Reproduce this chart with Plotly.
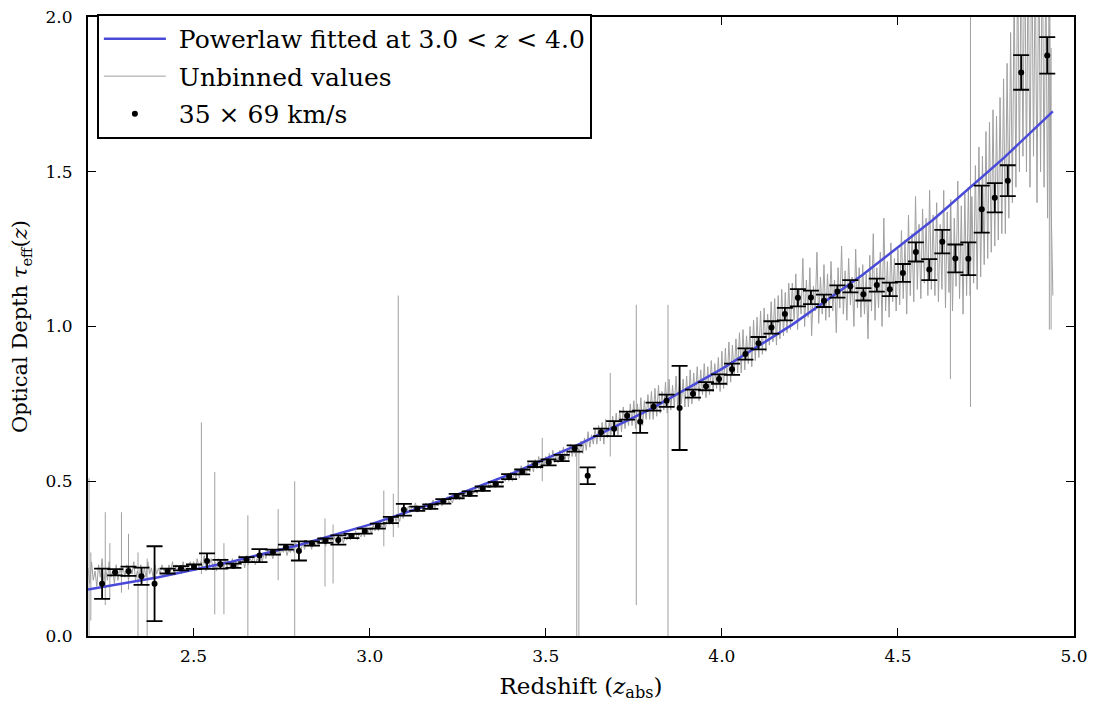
import numpy as np
import plotly.graph_objects as go

# %%
# Binned optical depth (35 x 69 km/s bins)
z_bin = [2.240, 2.277, 2.315, 2.352, 2.389, 2.426, 2.464, 2.501, 2.538, 2.576,
         2.613, 2.650, 2.687, 2.725, 2.762, 2.799, 2.836, 2.874, 2.911, 2.948,
         2.986, 3.023, 3.060, 3.097, 3.135, 3.172, 3.209, 3.247, 3.284, 3.321,
         3.358, 3.396, 3.433, 3.470, 3.508, 3.545, 3.582, 3.619, 3.657, 3.694,
         3.731, 3.768, 3.806, 3.843, 3.880, 3.918, 3.955, 3.992, 4.029, 4.067,
         4.104, 4.141, 4.179, 4.216, 4.253, 4.290, 4.328, 4.365, 4.402, 4.440,
         4.477, 4.514, 4.551, 4.589, 4.626, 4.663, 4.700, 4.738, 4.775, 4.812,
         4.850, 4.924]
tau_bin = [0.169, 0.206, 0.209, 0.193, 0.169, 0.210, 0.219, 0.224, 0.242, 0.232,
           0.227, 0.247, 0.260, 0.271, 0.287, 0.275, 0.299, 0.308, 0.310, 0.323,
           0.339, 0.355, 0.375, 0.408, 0.411, 0.418, 0.435, 0.452, 0.460, 0.476,
           0.490, 0.515, 0.530, 0.555, 0.561, 0.575, 0.606, 0.518, 0.658, 0.670,
           0.712, 0.692, 0.741, 0.760, 0.737, 0.783, 0.807, 0.830, 0.862, 0.911,
           0.946, 0.997, 1.040, 1.093, 1.094, 1.083, 1.113, 1.130, 1.104, 1.134,
           1.120, 1.173, 1.241, 1.184, 1.274, 1.220, 1.219, 1.379, 1.416, 1.471,
           1.821, 1.876]
tau_err = [0.049, 0.010, 0.015, 0.028, 0.121, 0.008, 0.007, 0.007, 0.025, 0.014,
           0.007, 0.008, 0.021, 0.008, 0.008, 0.031, 0.007, 0.007, 0.015, 0.007,
           0.008, 0.008, 0.010, 0.019, 0.007, 0.007, 0.007, 0.007, 0.007, 0.007,
           0.007, 0.008, 0.008, 0.009, 0.010, 0.010, 0.010, 0.027, 0.012, 0.024,
           0.013, 0.036, 0.013, 0.020, 0.136, 0.013, 0.013, 0.015, 0.018, 0.018,
           0.020, 0.020, 0.020, 0.028, 0.022, 0.020, 0.020, 0.020, 0.020, 0.021,
           0.022, 0.029, 0.031, 0.034, 0.038, 0.045, 0.053, 0.076, 0.047, 0.050,
           0.056, 0.059]

# Powerlaw fit curve (fitted at 3.0 < z < 4.0), sampled off the figure
z_fit = [2.2, 2.4, 2.6, 2.8, 3.0, 3.2, 3.4, 3.6, 3.8, 4.0, 4.2, 4.4, 4.6, 4.8, 4.94]
tau_fit = [0.150, 0.190, 0.238, 0.294, 0.360, 0.436, 0.523, 0.622, 0.735,
           0.863, 1.006, 1.167, 1.345, 1.544, 1.695]

# Unbinned values, one per 0.005 in z from 2.200 to 4.940 (one row per 0.1)
tau_raw = [
    0.22, 0.17, 0.24, 0.18, 0.21, 0.16, 0.23, 0.19, 0.25, 0.17, 0.22, 0.18, 0.24, 0.19, 0.21, 0.17, 0.23, 0.18, 0.22, 0.20,
    0.22, 0.19, 0.23, 0.18, 0.22, 0.20, 0.24, 0.18, 0.21, 0.19, 0.23, 0.18, 0.22, 0.19, 0.24, 0.20, 0.22, 0.19, 0.23, 0.20,
    0.22, 0.20, 0.23, 0.21, 0.22, 0.20, 0.23, 0.21, 0.24, 0.20, 0.23, 0.21, 0.22, 0.20, 0.24, 0.21, 0.23, 0.21, 0.24, 0.22,
    0.24, 0.21, 0.25, 0.22, 0.24, 0.22, 0.26, 0.21, 0.24, 0.23, 0.25, 0.22, 0.24, 0.21, 0.25, 0.23, 0.24, 0.22, 0.25, 0.22,
    0.24, 0.22, 0.25, 0.23, 0.24, 0.22, 0.26, 0.23, 0.25, 0.22, 0.26, 0.23, 0.25, 0.24, 0.26, 0.23, 0.25, 0.24, 0.27, 0.24,
    0.27, 0.25, 0.28, 0.26, 0.27, 0.25, 0.28, 0.26, 0.29, 0.26, 0.28, 0.27, 0.29, 0.26, 0.28, 0.27, 0.29, 0.27, 0.30, 0.28,
    0.29, 0.28, 0.30, 0.28, 0.31, 0.29, 0.30, 0.28, 0.31, 0.29, 0.31, 0.29, 0.32, 0.30, 0.31, 0.29, 0.32, 0.30, 0.31, 0.30,
    0.32, 0.30, 0.32, 0.31, 0.33, 0.30, 0.32, 0.31, 0.33, 0.31, 0.33, 0.32, 0.34, 0.31, 0.33, 0.32, 0.34, 0.32, 0.35, 0.33,
    0.35, 0.33, 0.36, 0.34, 0.36, 0.34, 0.37, 0.35, 0.36, 0.35, 0.38, 0.36, 0.38, 0.36, 0.39, 0.37, 0.39, 0.37, 0.40, 0.38,
    0.41, 0.40, 0.42, 0.40, 0.42, 0.41, 0.43, 0.40, 0.42, 0.41, 0.42, 0.41, 0.43, 0.41, 0.43, 0.42, 0.44, 0.41, 0.43, 0.42,
    0.44, 0.42, 0.44, 0.43, 0.45, 0.43, 0.44, 0.43, 0.45, 0.44, 0.46, 0.44, 0.46, 0.45, 0.47, 0.45, 0.46, 0.45, 0.47, 0.46,
    0.48, 0.46, 0.48, 0.47, 0.49, 0.47, 0.49, 0.48, 0.50, 0.48, 0.50, 0.48, 0.51, 0.49, 0.50, 0.49, 0.51, 0.50, 0.52, 0.50,
    0.53, 0.50, 0.53, 0.51, 0.54, 0.51, 0.55, 0.52, 0.54, 0.52, 0.56, 0.53, 0.56, 0.53, 0.57, 0.54, 0.58, 0.54, 0.57, 0.55,
    0.58, 0.55, 0.59, 0.55, 0.60, 0.56, 0.59, 0.56, 0.60, 0.57, 0.61, 0.57, 0.60, 0.57, 0.62, 0.58, 0.61, 0.58, 0.62, 0.59,
    0.63, 0.59, 0.64, 0.60, 0.66, 0.61, 0.65, 0.62, 0.67, 0.62, 0.68, 0.63, 0.69, 0.62, 0.70, 0.64, 0.69, 0.65, 0.71, 0.65,
    0.72, 0.65, 0.73, 0.66, 0.74, 0.67, 0.72, 0.68, 0.75, 0.68, 0.76, 0.67, 0.75, 0.69, 0.77, 0.68, 0.76, 0.70, 0.78, 0.70,
    0.79, 0.70, 0.80, 0.71, 0.81, 0.72, 0.79, 0.73, 0.82, 0.72, 0.83, 0.73, 0.81, 0.74, 0.84, 0.73, 0.82, 0.75, 0.83, 0.74,
    0.84, 0.74, 0.86, 0.75, 0.85, 0.77, 0.87, 0.76, 0.86, 0.78, 0.88, 0.77, 0.87, 0.78, 0.89, 0.79, 0.88, 0.80, 0.90, 0.79,
    0.92, 0.80, 0.93, 0.81, 0.95, 0.82, 0.94, 0.84, 0.96, 0.85, 0.98, 0.85, 0.99, 0.86, 0.97, 0.88, 1.00, 0.87, 1.02, 0.89,
    1.03, 0.90, 1.05, 0.91, 1.06, 0.92, 1.04, 0.94, 1.08, 0.95, 1.09, 0.94, 1.10, 0.96, 1.12, 0.97, 1.11, 0.98, 1.14, 0.99,
    1.14, 1.02, 1.17, 0.99, 1.12, 1.04, 1.22, 1.00, 1.15, 1.03, 1.19, 0.97, 1.13, 1.05, 1.24, 1.01, 1.16, 1.04, 1.20, 1.02,
    1.17, 1.03, 1.21, 1.05, 1.15, 0.98, 1.19, 1.06, 1.26, 1.04, 1.18, 1.02, 1.22, 1.07, 1.16, 1.00, 1.25, 1.06, 1.19, 1.03,
    1.20, 1.04, 1.17, 0.96, 1.23, 1.05, 1.30, 1.02, 1.19, 1.06, 1.24, 1.00, 1.35, 1.05, 1.21, 1.03, 1.27, 1.08, 1.22, 1.05,
    1.25, 1.07, 1.31, 1.09, 1.28, 1.04, 1.36, 1.10, 1.30, 1.08, 1.42, 1.12, 1.33, 1.09, 1.38, 1.14, 1.35, 1.10, 1.44, 1.12,
    1.36, 1.10, 1.40, 1.08, 1.33, 1.12, 1.44, 1.06, 1.37, 1.11, 1.41, 1.05, 1.35, 1.13, 1.47, 1.09, 1.39, 1.04, 1.43, 1.10,
    1.45, 1.10, 1.42, 1.14, 1.52, 1.12, 1.58, 1.16, 1.55, 1.20, 1.63, 1.22, 1.66, 1.24, 1.70, 1.26, 1.68, 1.28, 1.74, 1.30,
    1.80, 1.30, 1.85, 1.35, 1.95, 1.40, 2.10, 1.45, 2.20, 1.50, 2.25, 1.55, 2.30, 1.50, 2.25, 1.45, 2.30, 1.55, 2.20, 1.40,
    2.25, 1.50, 2.30, 1.45, 2.20, 1.35, 2.25, 1.40, 1.10,
]
z_raw = np.round(2.200 + 0.005 * np.arange(len(tau_raw)), 3)

# Narrow spikes in the unbinned values: redshift, low end, high end
spike_z = [2.203, 2.208, 2.249, 2.262, 2.295, 2.315, 2.342, 2.368, 2.522, 2.560,
           2.586, 2.654, 2.740, 2.787, 2.873, 2.896, 3.040, 3.067, 3.081, 3.490,
           3.588, 3.594, 3.683, 3.757, 3.847, 4.649, 4.706, 4.930, 4.935]
spike_lo = [0.00, 0.05, 0.10, 0.12, 0.14, 0.15, 0.00, 0.00, 0.20, 0.07,
            0.07, 0.00, 0.18, 0.00, 0.16, 0.17, 0.29, 0.32, 0.35, 0.50,
            0.00, 0.00, 0.58, 0.10, 0.00, 0.83, 0.74, 0.99, 0.99]
spike_hi = [0.51, 0.27, 0.40, 0.30, 0.40, 0.33, 0.27, 0.25, 0.69, 0.53,
            0.30, 0.39, 0.41, 0.50, 0.38, 0.36, 0.47, 0.46, 1.10, 0.64,
            0.62, 0.60, 0.85, 1.07, 1.07, 1.40, 2.05, 2.05, 1.90]

x_ticks = [2.5, 3.0, 3.5, 4.0, 4.5, 5.0]
y_ticks = [0.0, 0.5, 1.0, 1.5, 2.0]

serif = "DejaVu Serif, serif"
grey = "#a0a0a0"

# %%
fig = go.Figure()

fig.add_trace(go.Scatter(
    x=z_raw, y=tau_raw,
    mode="lines",
    line=dict(color=grey, width=1),
    name="\u00a0Unbinned values",
    legendgroup="b", legendrank=2,
    hoverinfo="skip",
))

# spikes as vertical strokes, same style as the unbinned line
sx, sy = [], []
for z, lo, hi in zip(spike_z, spike_lo, spike_hi):
    sx += [z, z, None]
    sy += [lo, hi, None]
fig.add_trace(go.Scatter(
    x=sx, y=sy, mode="lines",
    line=dict(color=grey, width=1),
    showlegend=False, hoverinfo="skip",
))

fig.add_trace(go.Scatter(
    x=z_fit, y=tau_fit,
    mode="lines",
    line=dict(color="#4a4ad9", width=2.5),
    name="\u00a0Powerlaw fitted at 3.0 &lt; <i>z</i> &lt; 4.0",
    legendgroup="a", legendrank=1,
))

fig.add_trace(go.Scatter(
    x=z_bin, y=tau_bin,
    mode="markers",
    marker=dict(color="black", size=6),
    error_y=dict(type="data", array=tau_err, color="black",
                 thickness=1.8, width=8),
    name="\u00a035 × 69 km/s",
    legendgroup="c", legendrank=3,
))

axis_common = dict(
    showline=True, linecolor="black", linewidth=2, mirror="ticks",
    ticks="inside", ticklen=8, tickwidth=1, tickcolor="black",
    showgrid=False, zeroline=False, automargin=False,
    ticklabeloverflow="allow",
    tickfont=dict(family=serif, size=17, color="black"),
)

fig.update_xaxes(
    range=[2.2, 5.0], tickvals=x_ticks, ticktext=[f"{v:.1f}" for v in x_ticks],
    ticklabelstandoff=4,
    title=dict(text="Redshift (<i>z</i><sub>abs</sub>)",
               font=dict(family=serif, size=23, color="black"), standoff=12),
    **axis_common,
)
fig.update_yaxes(
    range=[0, 2.0], tickvals=y_ticks, ticktext=[f"{v:.1f}" for v in y_ticks],
    ticklabelstandoff=10,
    title=dict(text="Optical Depth <i>τ</i><sub>eff</sub>(<i>z</i>)",
               font=dict(family=serif, size=21, color="black"), standoff=12),
    **axis_common,
)

# the page body adds an 8 px offset, so the figure is 8 px smaller each way
fig.update_layout(
    width=1088, height=696,
    margin=dict(l=80, r=22, t=6, b=68),
    plot_bgcolor="white", paper_bgcolor="white",
    font=dict(family=serif, color="black"),
    legend=dict(
        x=0.009, y=1.005, xanchor="left", yanchor="top",
        bgcolor="white", bordercolor="black", borderwidth=2,
        font=dict(family=serif, size=25, color="black"),
        itemwidth=62, traceorder="grouped", tracegroupgap=2,
    ),
)

fig.write_html("out.html")
